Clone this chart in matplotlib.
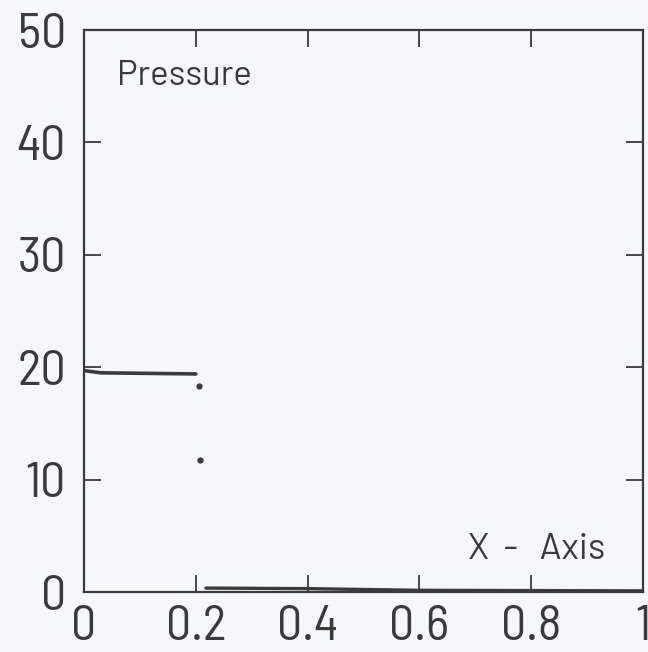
import matplotlib
matplotlib.use("Agg")
import matplotlib.pyplot as plt

plt.rcParams['font.family'] = ['Barlow Semi Condensed', 'Barlow', 'DejaVu Sans']
label_family = ['Barlow', 'Barlow Semi Condensed', 'DejaVu Sans']

# Upper step segment (x from 0 to ~0.2)
seg1_x = [0.0, 0.03, 0.2]
seg1_y = [19.7, 19.5, 19.4]
# Isolated points near the jump
pts_x = [0.205, 0.208]
pts_y = [18.3, 11.7]
# Lower segment (x from ~0.22 to 1)
seg2_x = [0.218, 0.4, 0.6, 1.0]
seg2_y = [0.35, 0.3, 0.15, 0.1]

xticks = [0, 0.2, 0.4, 0.6, 0.8, 1]
xticklabels = ["0", "0.2", "0.4", "0.6", "0.8", "1"]
yticks = [0, 10, 20, 30, 40, 50]
yticklabels = ["0", "10", "20", "30", "40", "50"]

bg = "#f5f7fa"
ink = "#3a3a3a"

fig = plt.figure(figsize=(6.48, 6.52), dpi=100, facecolor=bg)
ax = fig.add_axes([84/648, 1 - 592/652, (643-84)/648, (592-30)/652], facecolor=bg)

ax.plot(seg1_x, seg1_y, color=ink, lw=2.6, solid_capstyle="round")
ax.plot(pts_x, pts_y, "o", color=ink, ms=3.5, ls="none")
ax.plot(seg2_x, seg2_y, color=ink, lw=2.4, solid_capstyle="round")

ax.set_xlim(0, 1)
ax.set_ylim(0, 50)
ax.set_xticks(xticks)
ax.set_xticklabels(xticklabels)
ax.set_yticks(yticks)
ax.set_yticklabels(yticklabels)

ax.tick_params(axis="both", direction="in", length=12, width=1.3, color=ink,
               labelsize=36, labelcolor=ink, top=True, right=True)
ax.tick_params(axis="x", pad=9)
ax.tick_params(axis="y", pad=13)
for s in ax.spines.values():
    s.set_color(ink)
    s.set_linewidth(1.6)

ax.text(0.059, 0.918, "Pressure", transform=ax.transAxes, fontsize=25,
        color=ink, ha="left", va="center", family=label_family)
ax.text(0.932, 0.075, "X  -   Axis", transform=ax.transAxes, fontsize=26,
        color=ink, ha="right", va="center", family=label_family)

fig.savefig("out.png", dpi=100, facecolor=bg)
